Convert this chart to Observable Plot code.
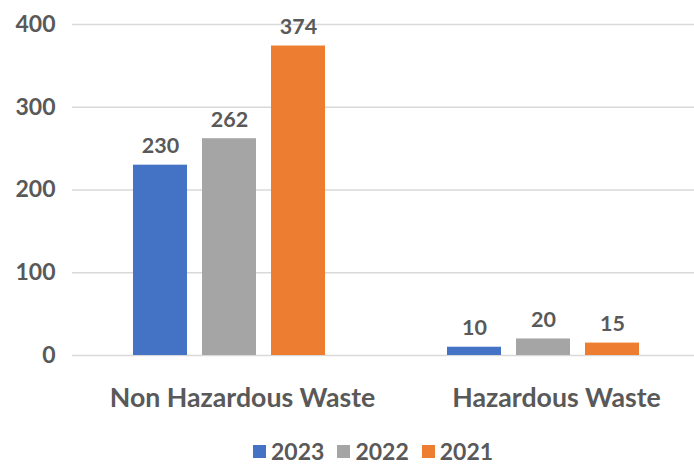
<!DOCTYPE html>
<html>
<head>
<meta charset="utf-8">
<script src="https://cdn.jsdelivr.net/npm/d3@7"></script>
<script src="https://cdn.jsdelivr.net/npm/@observablehq/plot@0.6"></script>
<style>
  body { margin: 0; background: #fff; font-family: Lato, "Open Sans", sans-serif; }
  #chart svg { display: block; }
  .legend { display: flex; align-items: center; margin: 16px 0 0 253px; height: 23px; }
  .legend .item { display: flex; align-items: center; margin-right: 13px; }
  .legend .swatch { width: 13px; height: 13px; margin-right: 5px; }
  .legend .lab { font-size: 23px; font-weight: 700; color: #595959; line-height: 23px; }
</style>
</head>
<body>
<div id="chart"></div>
<script>
// Waste generated by category and year
const categories = ["Non Hazardous Waste", "Hazardous Waste"];
const years = ["2023", "2022", "2021"];
const values2023 = [230, 10];
const values2022 = [262, 20];
const values2021 = [374, 15];
const yTicks = [0, 100, 200, 300, 400];
const colors = ["#4472C4", "#A5A5A5", "#ED7D31"];

const series = [values2023, values2022, values2021];
const rows = categories.flatMap((category, i) =>
  years.map((year, j) => ({category, year, value: series[j][i]}))
);

const textColor = "#595959";

const chart = Plot.plot({
  width: 694,
  height: 424,
  marginLeft: 72,
  marginRight: -6,
  marginTop: 24,
  marginBottom: 69,
  style: {fontFamily: "Lato, 'Open Sans', sans-serif", color: textColor, background: "#fff"},
  fx: {domain: categories, padding: 0, label: null},
  x: {domain: years, paddingInner: 0.223, paddingOuter: 0.87, axis: null},
  y: {domain: [0, 400], label: null},
  color: {domain: years, range: colors},
  marks: [
    Plot.ruleY(yTicks, {stroke: "#d9d9d9", strokeWidth: 1.6}),
    Plot.axisY(yTicks, {tickSize: 0, tickPadding: 17, fontSize: 23, fontWeight: 700, fill: textColor, label: null}),
    Plot.axisFx({anchor: "bottom", tickSize: 0, tickPadding: 33, dx: 13, fontSize: 26.7, fontWeight: 700, fill: textColor, label: null}),
    Plot.barY(rows, {fx: "category", x: "year", y: "value", fill: "year"}),
    Plot.text(rows, {fx: "category", x: "year", y: "value", text: d => String(d.value),
      lineAnchor: "bottom", dy: -12, fontSize: 21.5, fontWeight: 700, fill: textColor})
  ]
});
document.getElementById("chart").append(chart);

// Legend below the chart
const legend = document.createElement("div");
legend.className = "legend";
years.forEach((year, i) => {
  const item = document.createElement("div");
  item.className = "item";
  const sw = document.createElement("span");
  sw.className = "swatch";
  sw.style.background = colors[i];
  const lab = document.createElement("span");
  lab.className = "lab";
  lab.textContent = year;
  item.append(sw, lab);
  legend.append(item);
});
document.body.append(legend);
</script>
</body>
</html>
